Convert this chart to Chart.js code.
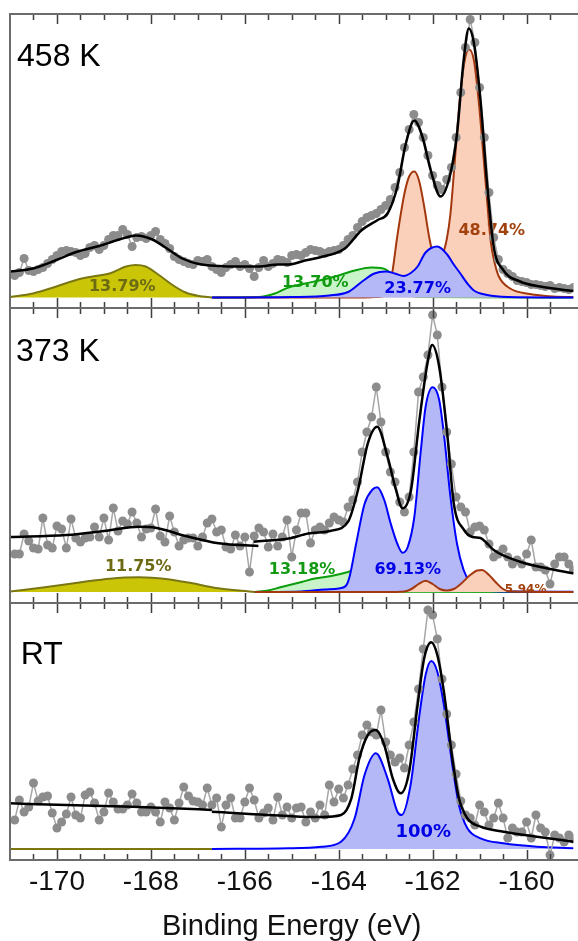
<!DOCTYPE html>
<html>
<head>
<meta charset="utf-8">
<script src="https://cdn.jsdelivr.net/npm/chart.js@4.4.1/dist/chart.umd.min.js"></script>
<style>
  html, body { margin: 0; padding: 0; background: #fff; }
  #wrap { position: relative; width: 578px; height: 941px; }
</style>
</head>
<body>
<div id="wrap"><canvas id="xps" width="578" height="941"></canvas></div>
<script>
// ─── S 2p spectra, three temperatures stacked ───

Chart.defaults.font.family = "'Liberation Sans', Arial, sans-serif";
Chart.defaults.color = '#111';

// ─── Measurement grid (eV) ───
const energyStart = -170.9;
const energyStep = 0.1;

// ─── Axis ticks (eV) ───
const tickLabels = [-170, -168, -166, -164, -162, -160];
const tickMinor = [-170.5, -169.5, -169, -168.5, -167.5, -167, -166.5, -165.5, -165, -164.5,
  -163.5, -163, -162.5, -161.5, -161, -160.5, -159.5];

// ─── 458 K ───
const raw458 = [
  22, 25, 39, 27, 26, 28, 30, 34, 38, 42,
  46, 47, 46, 45, 42, 44, 50, 52, 48, 52,
  58, 62, 62, 68, 63, 51, 60, 61, 59, 62,
  66, 58, 54, 49, 41, 38, 36, 34, 33, 37,
  36, 38, 31, 28, 25, 30, 33, 36, 31, 33,
  29, 21, 30, 37, 31, 34, 38, 37, 35, 42,
  43, 42, 45, 48, 47, 46, 44, 46, 47, 48,
  52, 58, 62, 70, 76, 80, 82, 84, 88, 92,
  98, 110, 125, 150, 168, 183, 175, 160, 142, 122,
  112, 108, 118, 130, 160, 205, 250, 278, 255, 210,
  160, 105, 60, 38, 28, 24, 21, 17, 16, 15,
  13, 13, 12, 11, 12, 9, 10, 9, 8, 10
];
const fit458 = [[-171, 26], [-170.51, 29], [-170.01, 37.5], [-169.59, 45.5], [-169.1, 51.5], [-168.67, 58],
  [-168.32, 62], [-167.97, 58], [-167.61, 47.5], [-167.33, 39], [-166.98, 33.5], [-166.56, 31.5], [-166.13, 31],
  [-165.71, 31], [-165.29, 33], [-165.07, 33], [-164.72, 37], [-164.37, 40.5], [-163.87, 49], [-163.52, 67],
  [-163.17, 77.5], [-162.96, 84], [-162.75, 111], [-162.57, 154], [-162.39, 177], [-162.22, 161], [-162.04, 127],
  [-161.83, 101], [-161.62, 124], [-161.48, 164], [-161.34, 237], [-161.23, 269], [-161.12, 254], [-160.98, 197],
  [-160.84, 114], [-160.7, 51], [-160.49, 27], [-160.14, 16], [-159.71, 11], [-159, 6.5]];
const olive458 = [[-171, 0.5], [-170.51, 4], [-170.01, 11], [-169.59, 17.5], [-169.24, 21], [-168.88, 24],
  [-168.53, 31], [-168.32, 32.5], [-168.11, 31], [-167.83, 22.5], [-167.54, 12.5], [-167.26, 5], [-166.98, 1.5], [-166.7, 0]];
const green458 = [[-166.7, 0], [-165.71, 0.5], [-165.36, 4], [-165.07, 10], [-164.72, 14], [-164.37, 17.5],
  [-164.0, 22], [-163.66, 27], [-163.3, 30], [-163.1, 29.5], [-162.96, 27], [-162.85, 22], [-162.7, 12],
  [-162.55, 4], [-162.3, 0.5], [-159, 0]];
const brown458 = [[-166.7, 0], [-163.5, 0], [-163.2, 0.5], [-163.0, 3], [-162.87, 22], [-162.75, 62], [-162.6, 104],
  [-162.5, 121], [-162.39, 126], [-162.29, 117], [-162.18, 91], [-162.08, 62], [-162.0, 45], [-161.9, 38],
  [-161.8, 42], [-161.7, 58], [-161.62, 84], [-161.51, 147], [-161.41, 204], [-161.3, 241], [-161.22, 248],
  [-161.12, 237], [-161.02, 197], [-160.91, 137], [-160.84, 97], [-160.76, 55], [-160.67, 33], [-160.59, 21],
  [-160.35, 9], [-159.93, 3.5], [-159.43, 1], [-159, 0.5]];
const blue458 = [[-166.7, 0], [-165, 0.5], [-164.2, 2], [-163.8, 5.5], [-163.5, 16], [-163.24, 24], [-163.0, 26],
  [-162.8, 24], [-162.62, 21.5], [-162.45, 25], [-162.32, 31], [-162.15, 45], [-161.9, 51], [-161.69, 43],
  [-161.55, 33], [-161.41, 24], [-161.26, 14], [-161.12, 7], [-160.84, 2.5], [-160.4, 0.5], [-159, 0]];

// ─── 373 K ───
const raw373 = [
  38, 38, 58, 51, 44, 43, 74, 47, 44, 66,
  63, 44, 73, 54, 50, 54, 55, 65, 55, 74,
  52, 84, 61, 71, 68, 80, 69, 55, 63, 64,
  83, 56, 50, 76, 60, 46, 52, 54, 54, 46,
  55, 69, 73, 60, 62, 45, 43, 57, 46, 55,
  20, 56, 64, 60, 45, 58, 46, 55, 72,
  35, 62, 79, 79, 49, 62, 65, 62, 69, 75,
  72, 70, 85, 92, 110, 140, 160, 175, 205, 170,
  140, 120, 110, 90, 80, 95, 140, 200, 215, 237,
  277, 257, 205, 160, 128, 95, 85, 80, 60, 65,
  66, 62, 48, 35, 38, 43, 35, 28, 32, 28,
  38, 52, 25, 25, 22, 8, 28, 35, 35, 28, 22
];
const fit373a = [[-171, 55], [-169.8, 57], [-168.95, 61.3], [-168.25, 65.3], [-167.9, 64.3], [-167.26, 56],
  [-166.56, 48.7], [-165.71, 46]];
const fit373b = [[-165.81, 50.3], [-165.07, 53.5], [-164.65, 58.5], [-164.16, 61.3], [-163.8, 70.3], [-163.59, 102],
  [-163.38, 148.7], [-163.18, 165.3], [-162.96, 135.3], [-162.78, 102], [-162.64, 83.7], [-162.46, 102],
  [-162.29, 168.7], [-162.11, 228.7], [-162.01, 247], [-161.86, 225.3], [-161.69, 158.7], [-161.55, 88.7],
  [-161.33, 62], [-161.15, 55], [-160.98, 54], [-160.85, 49], [-160.7, 42], [-160.14, 30.3], [-159.57, 23.7], [-159, 18.7]];
const olive373 = [[-171, 0.5], [-170.3, 4.5], [-169.45, 10], [-168.88, 13.3], [-168.25, 14.7], [-167.68, 13],
  [-167.12, 8.7], [-166.56, 3.7], [-165.99, 1], [-165.78, 0]];
const green373 = [[-165.78, 0], [-165.5, 1.5], [-165.22, 5], [-164.79, 10], [-164.51, 13.5], [-164.16, 16],
  [-163.8, 20], [-163.6, 23], [-163.4, 22], [-163.2, 15], [-163.0, 6], [-162.8, 1.5], [-162.5, 0.3], [-159, 0]];
const blue373 = [[-165.78, 0], [-164.8, 0.5], [-164.3, 2.5], [-164.0, 3.5], [-163.85, 6], [-163.77, 15], [-163.63, 48],
  [-163.45, 88], [-163.28, 102.5], [-163.18, 104.7], [-163.03, 92], [-162.89, 68], [-162.75, 48], [-162.64, 39.3],
  [-162.53, 45], [-162.39, 75], [-162.25, 142], [-162.15, 185], [-162.0, 204.7], [-161.86, 192], [-161.76, 158],
  [-161.62, 95], [-161.48, 48], [-161.34, 22], [-161.19, 8.7], [-160.98, 2], [-160.5, 0.5], [-159, 0.3]];
const brown373 = [[-165.78, 0], [-163.0, 0], [-162.6, 0.5], [-162.45, 3], [-162.3, 8], [-162.15, 11.3], [-162.0, 8],
  [-161.85, 3], [-161.7, 1.5], [-161.55, 3], [-161.4, 8], [-161.2, 17], [-161.05, 21.5], [-160.95, 22], [-160.8, 17],
  [-160.65, 9.5], [-160.5, 3], [-160.35, 0.5], [-159, 0]];

// ─── RT ───
const rawRT = [
  29, 49, 37, 42, 66, 48, 52, 53, 36, 21,
  27, 35, 52, 34, 31, 54, 57, 46, 29, 37,
  56, 47, 40, 40, 44, 55, 46, 37, 37, 42,
  37, 27, 47, 41, 29, 46, 62, 53, 48, 47,
  44, 61, 44, 51, 22, 44, 51, 31, 31, 47,
  61, 49, 31, 36, 41, 29, 52, 34, 42,
  31, 41, 42, 27, 37, 31, 44, 34, 64, 47,
  60, 51, 64, 80, 94, 114, 124, 117, 114, 139,
  107, 94, 87, 91, 81, 104, 127, 160, 200, 239,
  234, 210, 170, 135, 104, 75, 48, 34, 31, 24,
  44, 37, 24, 31, 46, 31, 11, 21, 17, 17,
  27, 11, 34, 21, 17, -6, 14, 11, 7, 14, 10
];
const fitRTa = [[-171, 45.7], [-169.8, 44], [-168.39, 42.3], [-166.98, 39.7], [-166.7, 39]];
const fitRTb = [[-166.7, 37.3], [-165.07, 33], [-164.37, 32], [-163.95, 34], [-163.73, 50.7], [-163.56, 90.7],
  [-163.38, 114], [-163.21, 119], [-163.03, 104], [-162.85, 70.7], [-162.68, 55.7], [-162.5, 77.3], [-162.32, 144],
  [-162.18, 190.7], [-162.03, 206.7], [-161.9, 194], [-161.76, 157.3], [-161.58, 90.7], [-161.44, 50.7],
  [-161.26, 30.7], [-160.98, 22.3], [-160.49, 17.3], [-159.78, 12.3], [-159, 7.3]];
const oliveRT = [[-171, 0], [-166.7, 0]];
const blueRT = [[-166.7, 0], [-165.07, 0.7], [-164.37, 2.3], [-163.95, 7.3], [-163.66, 30.7], [-163.45, 74],
  [-163.21, 95.7], [-162.96, 70.7], [-162.75, 37.3], [-162.66, 34], [-162.47, 64], [-162.29, 130.7], [-162.15, 174],
  [-162.03, 188], [-161.9, 177.3], [-161.76, 144], [-161.58, 84], [-161.44, 44], [-161.26, 20.7], [-160.98, 10.7],
  [-160.49, 5.7], [-159.78, 2.3], [-159, 0.7]];

// ─── Styles ───
const styles = {
  olive: { line: '#7a7712', fill: '#cac607' },
  green: { line: '#0a9e0a', fill: '#c9f3c9' },
  blue:  { line: '#0000ff', fill: '#b5b8f7' },
  brown: { line: '#a3380f', fill: '#fbd0bb' },
  fit:   { line: '#000000', width: 2.5 },
};

const annotations = [
  { on: 'olive458', text: '13.79%', x: -168.61, y: 10.5, color: '#6d6a14', size: 16 },
  { on: 'green458', text: '13.70%', x: -164.5, y: 14.5, color: '#129a12', size: 16 },
  { on: 'blue458', text: '23.77%', x: -162.32, y: 8.5, color: '#0000e6', size: 16 },
  { on: 'brown458', text: '48.74%', x: -160.74, y: 66.5, color: '#a2420f', size: 16 },
  { on: 'olive373', text: '11.75%', x: -168.27, y: 25, color: '#6d6a14', size: 16 },
  { on: 'green373', text: '13.18%', x: -164.78, y: 22, color: '#129a12', size: 16 },
  { on: 'blue373', text: '69.13%', x: -162.53, y: 22, color: '#0000e6', size: 16 },
  { on: 'brown373', text: '5.94%', x: -160.02, y: 2, color: '#a2420f', size: 12, clip: true },
  { on: 'blueRT', text: '100%', x: -162.2, y: 17, color: '#0000e6', size: 18 },
];

const panelTitles = [
  { axis: 'y458', text: '458 K', x: -170.85, y: 231.5 },
  { axis: 'y373', text: '373 K', x: -170.87, y: 231 },
  { axis: 'yRT', text: 'RT', x: -170.77, y: 185 },
];

const pairs = arr => arr.map(([x, y]) => ({ x, y }));
const onGrid = vals => vals.map((y, i) => ({ x: +(energyStart + energyStep * i).toFixed(2), y }));

function curve(label, axis, points, style) {
  return {
    label, yAxisID: axis, data: pairs(points),
    borderColor: style.line, borderWidth: style.width || 2,
    backgroundColor: style.fill || 'transparent',
    fill: style.fill ? 'origin' : false,
    pointRadius: 0, cubicInterpolationMode: 'monotone',
  };
}

function measured(label, axis, vals) {
  return {
    label, yAxisID: axis, data: onGrid(vals),
    borderColor: '#a6a6a6', borderWidth: 1.5, fill: false, tension: 0,
    pointRadius: 4.5, pointBackgroundColor: '#8c8c8c', pointBorderWidth: 0,
  };
}

// bottom -> top drawing order
const layers = [
  curve('olive458', 'y458', olive458, styles.olive),
  curve('green458', 'y458', green458, styles.green),
  curve('brown458', 'y458', brown458, styles.brown),
  curve('blue458', 'y458', blue458, styles.blue),
  measured('raw458', 'y458', raw458),
  curve('fit458', 'y458', fit458, styles.fit),

  curve('olive373', 'y373', olive373, styles.olive),
  curve('green373', 'y373', green373, styles.green),
  curve('blue373', 'y373', blue373, styles.blue),
  curve('brown373', 'y373', brown373, styles.brown),
  measured('raw373', 'y373', raw373),
  curve('fit373a', 'y373', fit373a, styles.fit),
  curve('fit373b', 'y373', fit373b, styles.fit),

  curve('oliveRT', 'yRT', oliveRT, styles.olive),
  curve('blueRT', 'yRT', blueRT, styles.blue),
  measured('rawRT', 'yRT', rawRT),
  curve('fitRTa', 'yRT', fitRTa, styles.fit),
  curve('fitRTb', 'yRT', fitRTb, styles.fit),
];
// Chart.js paints the first dataset last
const datasets = layers.slice().reverse();

// ─── Percent labels, painted right after each component's fill ───
const componentLabels = {
  id: 'componentLabels',
  beforeDatasetDraw(chart, args) {
    const ds = chart.data.datasets[args.index];
    const xs = chart.scales.x;
    const ys = chart.scales[ds.yAxisID];
    const ctx = chart.ctx;
    annotations.filter(a => a.on === ds.label).forEach(a => {
      ctx.save();
      if (a.clip) {
        ctx.beginPath();
        ctx.rect(xs.left, ys.top, xs.width, ys.getPixelForValue(0) - ys.top - 1);
        ctx.clip();
      }
      ctx.font = `bold ${a.size}px 'DejaVu Sans'`;
      ctx.fillStyle = a.color;
      ctx.textAlign = 'center';
      ctx.textBaseline = 'middle';
      ctx.fillText(a.text, xs.getPixelForValue(a.x), ys.getPixelForValue(a.y));
      ctx.restore();
    });
  },
};

// ─── Panel frames, inward ticks, temperature titles ───
const panelFrames = {
  id: 'panelFrames',
  afterDraw(chart) {
    const { ctx, chartArea, scales } = chart;
    const xs = scales.x;
    ['y458', 'y373', 'yRT'].forEach(id => {
      const ys = scales[id];
      ctx.save();
      ctx.strokeStyle = '#3f3f3f';
      ctx.lineWidth = 1.5;
      ctx.beginPath();
      tickLabels.concat(tickMinor).forEach(v => {
        const px = Math.round(xs.getPixelForValue(v)) + 0.5;
        const len = tickLabels.includes(v) ? 10 : 6;
        ctx.moveTo(px, ys.top); ctx.lineTo(px, ys.top + len);
        ctx.moveTo(px, ys.bottom); ctx.lineTo(px, ys.bottom - len);
      });
      ctx.stroke();
      ctx.strokeStyle = '#6c6c6c';
      ctx.lineWidth = 2;
      ctx.beginPath();
      ctx.moveTo(chart.width, ys.top); ctx.lineTo(chartArea.left, ys.top);
      ctx.lineTo(chartArea.left, ys.bottom); ctx.lineTo(chart.width, ys.bottom);
      ctx.stroke();
      ctx.restore();
    });
    panelTitles.forEach(t => {
      const ys = scales[t.axis];
      ctx.save();
      ctx.font = "32px 'Liberation Sans', Arial, sans-serif";
      ctx.fillStyle = '#000';
      ctx.textAlign = 'left';
      ctx.textBaseline = 'alphabetic';
      ctx.fillText(t.text, xs.getPixelForValue(t.x), ys.getPixelForValue(t.y));
      ctx.restore();
    });
  },
};

const hiddenY = (weight, min, max) => ({
  type: 'linear', position: 'left', stack: 'panels', stackWeight: weight, min, max,
  ticks: { display: false }, grid: { display: false, drawTicks: false }, border: { display: false },
});

new Chart(document.getElementById('xps'), {
  type: 'line',
  data: { datasets },
  options: {
    responsive: false,
    animation: false,
    events: [],
    layout: { padding: { top: 14, left: 10, right: 1, bottom: 0 } },
    plugins: { legend: { display: false }, tooltip: { enabled: false } },
    scales: {
      x: {
        type: 'linear', position: 'bottom', min: -171, max: -159,
        afterBuildTicks: s => { s.ticks = tickLabels.map(v => ({ value: v })); },
        afterFit: s => { s.height = 81; },
        grid: { display: false, drawTicks: false },
        border: { display: false },
        ticks: { font: { size: 28 }, color: '#111', padding: 5, maxRotation: 0, autoSkip: false, callback: v => String(v) },
        title: { display: true, text: 'Binding Energy (eV)', font: { size: 29, lineHeight: 1 }, color: '#111', padding: { top: 0, bottom: 0 } },
      },
      yRT: hiddenY(257, -11, 246),
      y373: hiddenY(295, -11, 284),
      y458: hiddenY(294, -10.5, 283.5),
    },
  },
  plugins: [componentLabels, panelFrames],
});
</script>
</body>
</html>
